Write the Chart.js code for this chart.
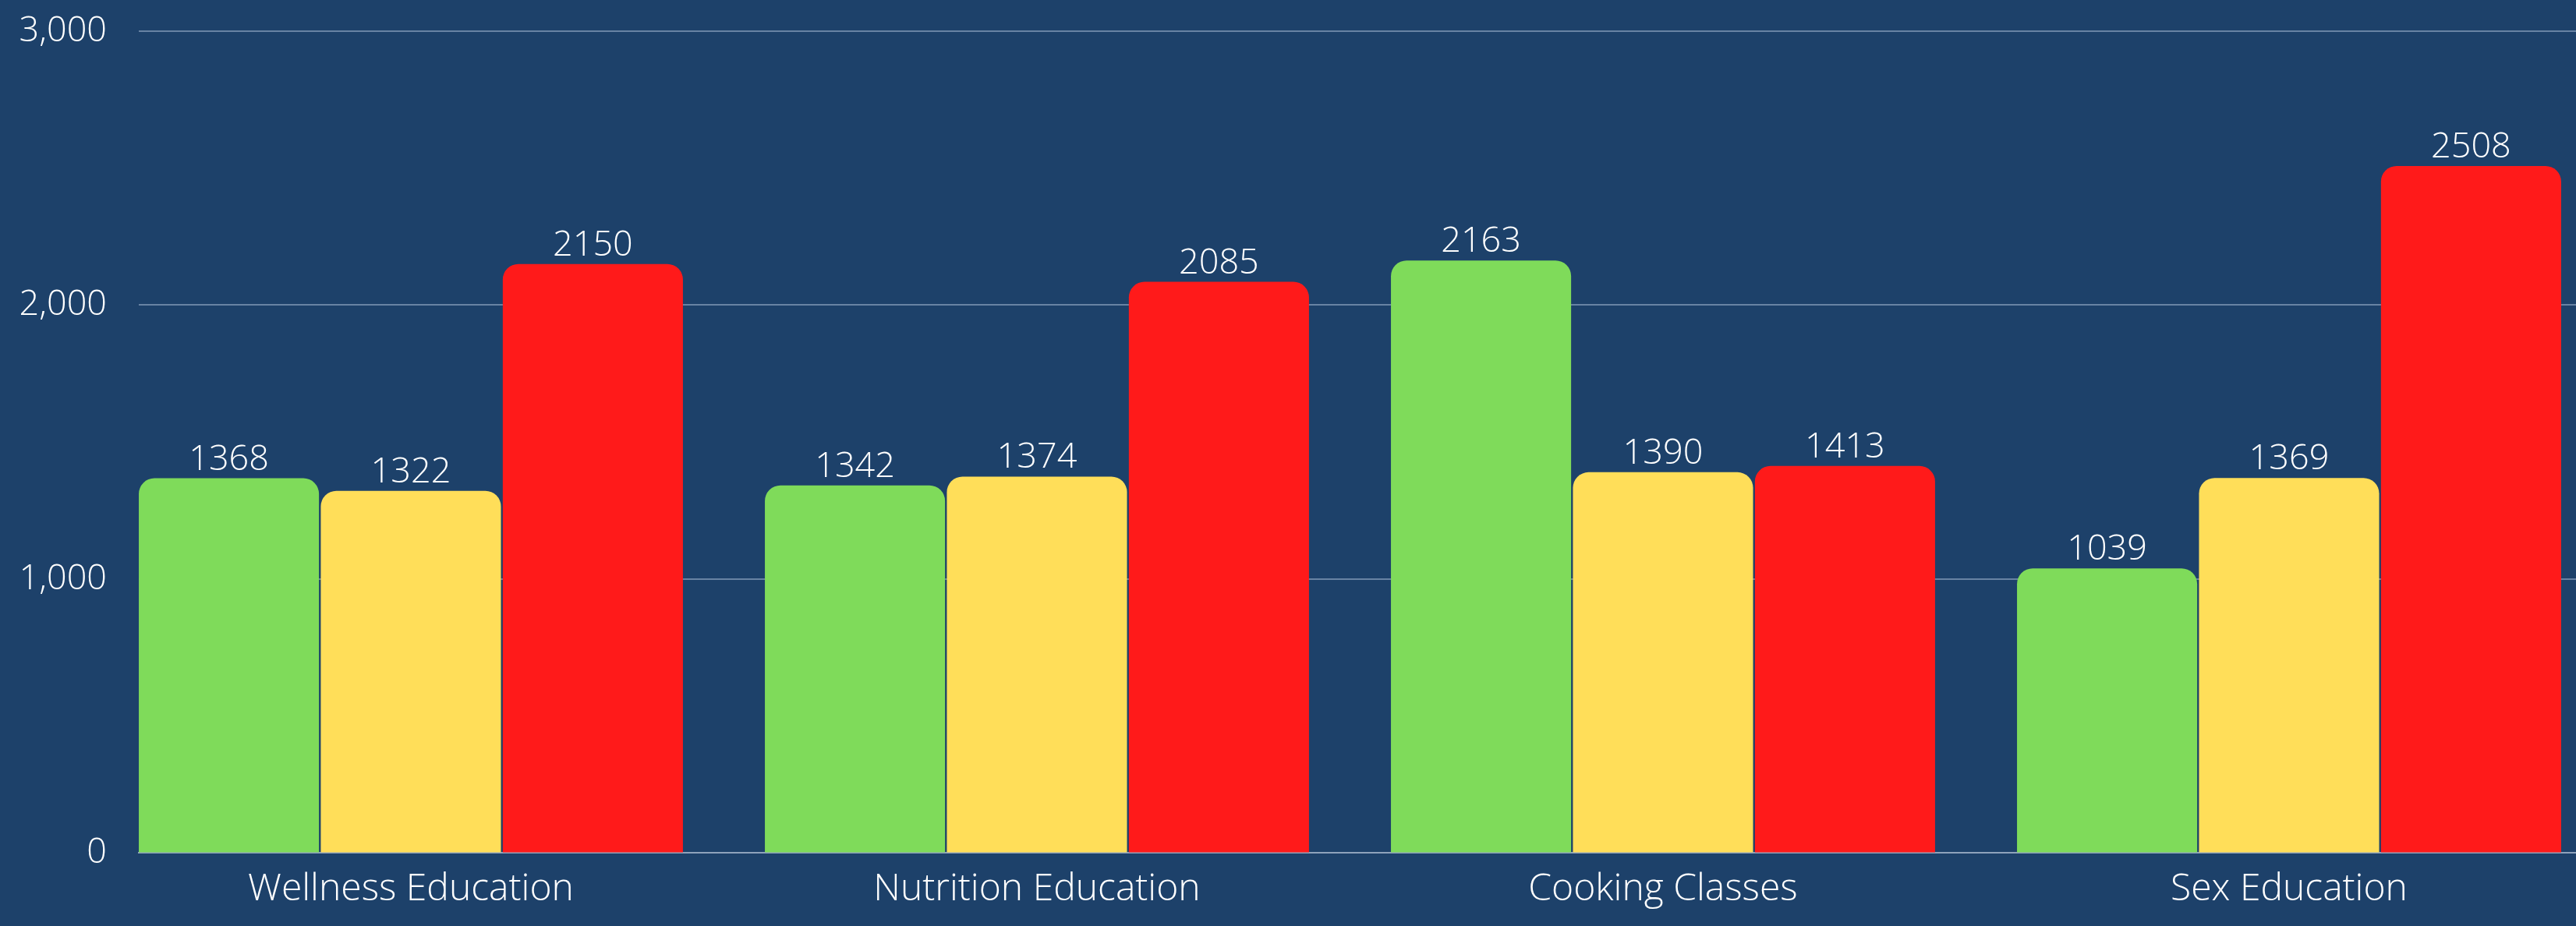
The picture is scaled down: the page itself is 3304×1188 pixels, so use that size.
<!DOCTYPE html>
<html>
<head>
<meta charset="utf-8">
<script src="https://cdn.jsdelivr.net/npm/chart.js@4/dist/chart.umd.min.js"></script>
<style>
  html, body { margin: 0; padding: 0; background: #1d416a; }
  #wrap { width: 3304px; height: 1188px; }
</style>
</head>
<body>
<div id="wrap"><canvas id="Chart" width="3304" height="1188"></canvas></div>
<script>
// chart data
var categories = ["Wellness Education", "Nutrition Education", "Cooking Classes", "Sex Education"];
var greenValues = [1368, 1342, 2163, 1039];
var yellowValues = [1322, 1374, 1390, 1369];
var redValues = [2150, 2085, 1413, 2508];
var yTicks = [0, 1000, 2000, 3000];

var fontName = "'Open Sans', 'Noto Sans', sans-serif";

function toPoints(values) {
    return values.map(function(v, i) { return { x: i, y: v }; });
}

// writes each bar's value above it
var valueLabels = {
    id: 'valueLabels',
    afterDatasetsDraw: function(chart) {
        var ctx = chart.ctx;
        ctx.save();
        ctx.font = "300 45px " + fontName;
        ctx.fillStyle = "#ffffff";
        ctx.textAlign = "center";
        ctx.textBaseline = "alphabetic";
        chart.data.datasets.forEach(function(ds, di) {
            var meta = chart.getDatasetMeta(di);
            meta.data.forEach(function(bar, i) {
                ctx.fillText(String(ds.data[i].y), bar.x, bar.y - 11);
            });
        });
        ctx.restore();
    }
};

function dataset(values, color) {
    return {
        data: toPoints(values),
        backgroundColor: color,
        borderWidth: 0,
        borderRadius: { topLeft: 20, topRight: 20 },
        borderSkipped: 'bottom',
        categoryPercentage: 0.872,
        barPercentage: 0.99
    };
}

var ctx = document.getElementById("Chart");
var newChart = new Chart(ctx, {
    type: 'bar',
    data: {
        datasets: [
            dataset(greenValues, "#7fdb5a"),
            dataset(yellowValues, "#ffde59"),
            dataset(redValues, "#ff1a1a")
        ]
    },
    options: {
        responsive: false,
        animation: false,
        layout: { padding: { top: 40, right: 0, bottom: 0, left: 0 } },
        plugins: {
            legend: { display: false },
            tooltip: { enabled: false }
        },
        scales: {
            x: {
                type: 'linear',
                offset: false,
                min: -0.4346,
                max: 3.4583,
                grid: { display: false, offset: false, drawTicks: false },
                border: { display: true, color: "#8ea2bb", width: 2 },
                ticks: {
                    stepSize: 1,
                    includeBounds: false,
                    autoSkip: false,
                    maxRotation: 0,
                    padding: 18,
                    color: "#ffffff",
                    font: { family: fontName, size: 48, weight: 300 },
                    callback: function(v) {
                        return Number.isInteger(v) ? categories[v] : "";
                    }
                }
            },
            y: {
                min: yTicks[0],
                max: yTicks[yTicks.length - 1],
                afterBuildTicks: function(scale) {
                    scale.ticks = yTicks.map(function(v) { return { value: v }; });
                },
                afterFit: function(scale) { scale.width = 178; },
                grid: { color: "#6883a3", lineWidth: 2, drawTicks: true, tickLength: 41, tickColor: "rgba(0,0,0,0)" },
                border: { display: false },
                ticks: {
                    padding: 0,
                    color: "#ffffff",
                    font: { family: fontName, size: 45, weight: 300 },
                    callback: function(v) { return v.toLocaleString("en-US"); }
                }
            }
        }
    },
    plugins: [valueLabels]
});
</script>
</body>
</html>
